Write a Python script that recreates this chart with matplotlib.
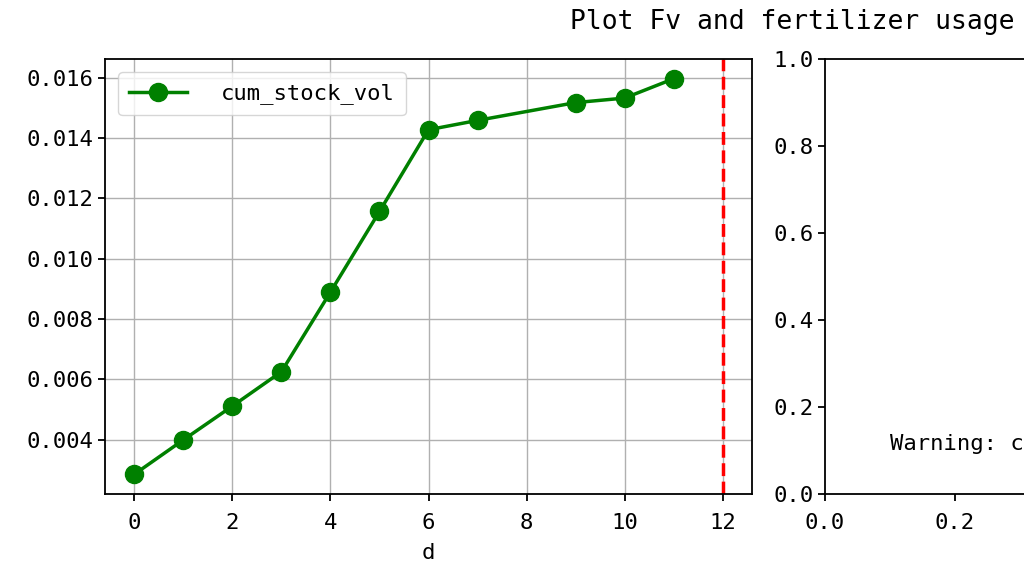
import numpy as np
import matplotlib.pyplot as plt
import matplotlib as mpl

mpl.rcParams['font.family'] = ['DejaVu Sans Mono']
mpl.rcParams['font.size'] = 16

# Data
d = [0, 1, 2, 3, 4, 5, 6, 7, 9, 10, 11]
cum_stock_vol = [0.00285, 0.00399, 0.00511, 0.00625, 0.00889, 0.01156,
                 0.01427, 0.01458, 0.01517, 0.01532, 0.01596]
cutoff = 12

title = 'Plot Fv and fertilizer usage'
warning = 'Warning: c'

fig = plt.figure(figsize=(10.24, 5.65), dpi=100)

# left panel
ax = fig.add_axes([105 / 1024, 71 / 565, 647 / 1024, 435 / 565])
ax.plot(d, cum_stock_vol, color='green', marker='o', lw=2.5, markersize=13,
        label='cum_stock_vol')
ax.axvline(cutoff, color='red', linestyle='--', lw=2.5)
ax.grid(True, color='#b0b0b0', lw=1.0)
ax.set_xticks([0, 2, 4, 6, 8, 10, 12])
ax.set_yticks([0.004, 0.006, 0.008, 0.010, 0.012, 0.014, 0.016])
ax.set_xlabel('d', labelpad=7)
ax.legend(loc='upper left', handlelength=2.6, handletextpad=1.5,
          borderpad=0.5, borderaxespad=0.6)

# right panel (runs past the edge of the picture)
ax2 = fig.add_axes([825 / 1024, 71 / 565, 650 / 1024, 435 / 565])
ax2.set_xticks([0.0, 0.2, 0.4, 0.6, 0.8, 1.0])
ax2.set_yticks([0.0, 0.2, 0.4, 0.6, 0.8, 1.0])
ax2.text(0.1, 0.1, warning, transform=ax2.transAxes)

for a in (ax, ax2):
    for s in a.spines.values():
        s.set_linewidth(1.3)
    a.tick_params(width=1.3, length=5)
    a.tick_params(axis='x', pad=9)

fig.text(570 / 1024, 1 - 29 / 565, title, fontsize=19, va='baseline', ha='left')

fig.savefig('out.png', dpi=100)
